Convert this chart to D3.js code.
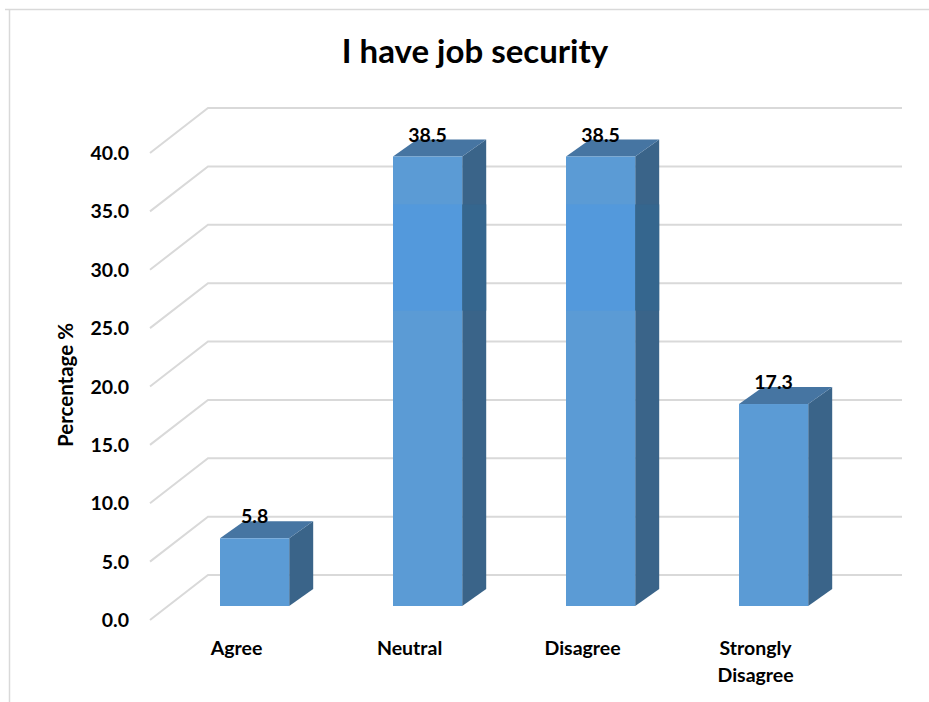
<!DOCTYPE html>
<html>
<head>
<meta charset="utf-8">
<script src="https://cdn.jsdelivr.net/npm/d3@7"></script>
<style>
  html, body { margin: 0; padding: 0; background: #fff; }
  svg { display: block; }
  text { font-family: Lato, "Open Sans", sans-serif; font-weight: 700; fill: #000; }
</style>
</head>
<body>
<svg id="chart" width="929" height="702"></svg>
<script>
// ---- data ----
const categories = ["Agree", "Neutral", "Disagree", "Strongly Disagree"];
const categoryLines = [["Agree"], ["Neutral"], ["Disagree"], ["Strongly", "Disagree"]];
const values = [5.8, 38.5, 38.5, 17.3];
const tickValues = [0, 5, 10, 15, 20, 25, 30, 35, 40];
const tickLabels = ["0.0", "5.0", "10.0", "15.0", "20.0", "25.0", "30.0", "35.0", "40.0"];
const title = "I have job security";
const yTitle = "Percentage %";

// ---- layout ----
const svg = d3.select("#chart");
const W = 929, H = 702;

// depth geometry (3D look)
const wallDX = 58, wallDY = -45;     // front floor edge -> back wall
const barDX = 24, barDY = -17;       // bar depth

// back-wall value scale
const yBack = d3.scaleLinear().domain([0, 40]).range([575, 108]);
// bar front plane scale
const yBar = d3.scaleLinear().domain([0, 40]).range([575 + 31, 108 + 31]);

const x = d3.scaleBand().domain(categories)
  .range([168.1, 860.1]).paddingInner(0.6).paddingOuter(0.3);

// chart area border
svg.append("path")
  .attr("d", `M5,9.5 H${W} M9.5,9.5 V${H}`)
  .attr("fill", "none").attr("stroke", "#d9d9d9").attr("stroke-width", 1.5);

// gridlines: back wall + side wall diagonal
const backX0 = 208, backX1 = 902;
const grid = svg.append("g");
tickValues.forEach(v => {
  const yb = yBack(v);
  grid.append("path")
    .attr("d", `M${backX0 - wallDX},${yb - wallDY} L${backX0},${yb} H${backX1}`)
    .attr("fill", "none").attr("stroke", "#d9d9d9").attr("stroke-width", 2);
});

// y tick labels
svg.append("g").selectAll("text").data(tickValues).join("text")
  .attr("x", 129)
  .attr("y", (d) => yBack(d) - wallDY + 7)
  .attr("text-anchor", "end")
  .style("font-size", "19.5px")
  .text((d, i) => tickLabels[i]);

// highlight band artifact (value range) in tall bars
const bandLo = 25.3, bandHi = 34.4;

// bars
const bars = svg.append("g");
values.forEach((v, i) => {
  const c = categories[i];
  const x0 = x(c), x1 = x(c) + x.bandwidth();
  const yTop = yBar(v), yBot = yBar(0);
  const g = bars.append("g");
  // side face
  g.append("path")
    .attr("d", `M${x1},${yBot} L${x1 + barDX},${yBot + barDY} L${x1 + barDX},${yTop + barDY} L${x1},${yTop} Z`)
    .attr("fill", "#3a6489");
  // top face
  g.append("path")
    .attr("d", `M${x0},${yTop} L${x0 + barDX},${yTop + barDY} L${x1 + barDX},${yTop + barDY} L${x1},${yTop} Z`)
    .attr("fill", "#4675a2");
  // front face
  g.append("rect")
    .attr("x", x0).attr("y", yTop)
    .attr("width", x.bandwidth()).attr("height", yBot - yTop)
    .attr("fill", "#5b9bd5");
  if (v > bandHi) {
    g.append("rect")
      .attr("x", x0).attr("y", yBar(bandHi))
      .attr("width", x.bandwidth()).attr("height", yBar(bandLo) - yBar(bandHi))
      .attr("fill", "#5399dc");
    g.append("rect")
      .attr("x", x1).attr("y", yBar(bandHi))
      .attr("width", barDX).attr("height", yBar(bandLo) - yBar(bandHi))
      .attr("fill", "#35668e");
  }
  // value label
  g.append("text")
    .attr("x", (x0 + x1) / 2)
    .attr("y", yTop + barDY + 2)
    .attr("text-anchor", "middle")
    .style("font-size", "19.5px")
    .text(v.toFixed(1));
});

// category labels
const labelOffset = -18;
svg.append("g").selectAll("text").data(categories).join("text")
  .attr("text-anchor", "middle")
  .style("font-size", "19.5px")
  .each(function(d, i) {
    const t = d3.select(this);
    const cx = x(d) + x.bandwidth() / 2 + labelOffset;
    categoryLines[i].forEach((ln, j) => {
      t.append("tspan").attr("x", cx).attr("y", 655 + j * 27).text(ln);
    });
  });

// title
svg.append("text")
  .attr("x", 475).attr("y", 63)
  .attr("text-anchor", "middle")
  .style("font-size", "33px")
  .text(title);

// y axis title
svg.append("text")
  .attr("transform", "translate(73,385) rotate(-90)")
  .attr("text-anchor", "middle")
  .style("font-size", "20.5px")
  .text(yTitle);
</script>
</body>
</html>
